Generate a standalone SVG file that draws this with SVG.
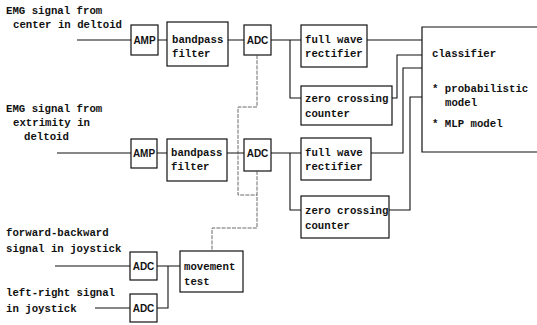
<svg xmlns="http://www.w3.org/2000/svg" width="537" height="325" viewBox="0 0 537 325">
<style>
.box{fill:none;stroke:#111;stroke-width:1.2}
.t{font-family:"Liberation Mono","DejaVu Sans Mono",monospace;font-weight:bold;font-size:10.7px;fill:#111}
.s{font-family:"Liberation Sans","DejaVu Sans",sans-serif;font-weight:bold;font-size:10px;fill:#111}
.c{fill:none;stroke:#111;stroke-width:1.1}
.d{fill:none;stroke:#444;stroke-width:0.8;stroke-dasharray:4 1.2}
</style>
<rect width="537" height="325" fill="#fff"/>
<g id="labels">
<text class="t" x="6" y="14">EMG signal from</text>
<text class="t" x="13" y="28">center in deltoid</text>
<text class="t" x="6" y="112">EMG signal from</text>
<text class="t" x="13" y="126">extrimity in</text>
<text class="t" x="24" y="140">deltoid</text>
<text class="t" x="6" y="236">forward-backward</text>
<text class="t" x="6" y="252">signal in joystick</text>
<text class="t" x="6" y="296">left-right signal</text>
<text class="t" x="6" y="312">in joystick</text>
</g>
<g id="amp1"><rect class="box" x="131" y="25" width="27" height="30"/><text class="s" x="144.5" y="44" text-anchor="middle">AMP</text></g>
<g id="bandpass1"><rect class="box" x="167" y="22" width="61" height="44"/><text class="t" x="172" y="43">bandpass</text><text class="t" x="172" y="57">filter</text></g>
<g id="adc1"><rect class="box" x="244" y="25" width="27" height="30"/><text class="s" x="257.5" y="44" text-anchor="middle">ADC</text></g>
<g id="fwr1"><rect class="box" x="301" y="25" width="66" height="42"/><text class="t" x="305" y="43">full wave</text><text class="t" x="305" y="57">rectifier</text></g>
<g id="zc1"><rect class="box" x="301" y="86" width="91" height="39"/><text class="t" x="305" y="102">zero crossing</text><text class="t" x="305" y="117">counter</text></g>
<g id="amp2"><rect class="box" x="131" y="139" width="26" height="29"/><text class="s" x="144" y="157" text-anchor="middle">AMP</text></g>
<g id="bandpass2"><rect class="box" x="167" y="139" width="60" height="42"/><text class="t" x="171" y="156">bandpass</text><text class="t" x="171" y="170">filter</text></g>
<g id="adc2"><rect class="box" x="244" y="139" width="27" height="32"/><text class="s" x="257.5" y="157" text-anchor="middle">ADC</text></g>
<g id="fwr2"><rect class="box" x="301" y="138" width="70" height="42"/><text class="t" x="305" y="156">full wave</text><text class="t" x="305" y="170">rectifier</text></g>
<g id="zc2"><rect class="box" x="301" y="196" width="88" height="42"/><text class="t" x="305" y="214">zero crossing</text><text class="t" x="305" y="229">counter</text></g>
<g id="classifier"><path class="box" d="M540 27 H422 V152 H540"/><text class="t" x="432" y="57">classifier</text><text class="t" x="432" y="92">* probabilistic</text><text class="t" x="445" y="106">model</text><text class="t" x="432" y="127">* MLP model</text></g>
<g id="adc3"><rect class="box" x="130" y="252" width="27" height="28"/><text class="s" x="143.5" y="270" text-anchor="middle">ADC</text></g>
<g id="adc4"><rect class="box" x="130" y="294" width="27" height="28"/><text class="s" x="143.5" y="312" text-anchor="middle">ADC</text></g>
<g id="movement"><rect class="box" x="180" y="251" width="63" height="41"/><text class="t" x="184" y="270">movement</text><text class="t" x="184" y="285">test</text></g>
<g id="connectors">
<path class="c" d="M77 40 H131 M158 40 H167 M228 40 H244 M271 40 H301 M290 40 V98 H301"/>
<path class="c" d="M367 40 H422 M392 98 H397 V55 H422 M371 153 H403 V68 H422 M389 210 H410 V97 H422"/>
<path class="c" d="M57 153 H131 M157 153 H167 M227 153 H244 M271 153 H301 M290 153 V210 H301"/>
<path class="c" d="M55 266 H130 M157 266 H180 M95 308 H130 M157 308 H168 V266"/>
<path class="d" d="M257 55 V107 H238 V195 H257 M257 171 V228 H212 V251"/>
</g>
</svg>
